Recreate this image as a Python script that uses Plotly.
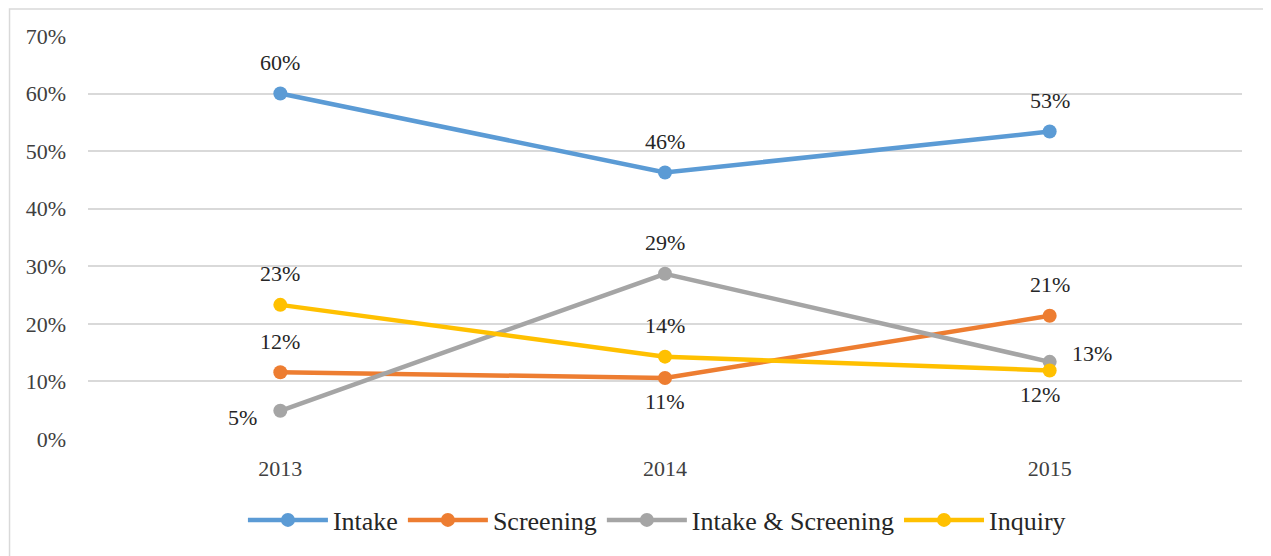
import plotly.graph_objects as go

years = ["2013", "2014", "2015"]
intake = [0.600, 0.463, 0.534]
screening = [0.116, 0.106, 0.214]
intake_screening = [0.049, 0.287, 0.134]
inquiry = [0.233, 0.143, 0.119]

series = [
    ("Intake", intake, "#5b9bd5", ["top", "top", "top"]),
    ("Screening", screening, "#ed7d31", ["top", "bottom", "top"]),
    ("Intake & Screening", intake_screening, "#a5a5a5", ["left", "top", "right"]),
    ("Inquiry", inquiry, "#ffc000", ["top", "top", "bottomleft"]),
]

# label offsets in px (xshift, yshift)
OFFSETS = {
    "top": (0, 31),
    "bottom": (0, -24),
    "left": (-38, -7),
    "right": (42, 8),
    "bottomleft": (-10, -24),
}

FONT = "Liberation Serif, Times New Roman, serif"

fig = go.Figure()
annotations = []
for name, vals, color, pos in series:
    fig.add_trace(go.Scatter(
        x=years, y=vals, name=name, mode="lines+markers",
        line=dict(color=color, width=4.5),
        marker=dict(color=color, size=14),
    ))
    # category axis: annotations are placed by category index
    for i, (v, p) in enumerate(zip(vals, pos)):
        dx, dy = OFFSETS[p]
        annotations.append(dict(
            x=i, y=v, xref="x", yref="y", text=f"{v:.0%}", showarrow=False,
            xshift=dx, yshift=dy, font=dict(family=FONT, size=22, color="#262626"),
        ))

fig.update_layout(
    width=1263, height=548,
    margin=dict(l=79.5, r=28.5, t=28, b=117),
    paper_bgcolor="white", plot_bgcolor="white",
    font=dict(family=FONT, size=22, color="#404040"),
    showlegend=True,
    legend=dict(orientation="h", x=0.493, xanchor="center", y=-0.201, yanchor="middle",
                font=dict(family=FONT, size=26, color="#262626"),
                itemwidth=80, tracegroupgap=0),
    annotations=annotations,
    shapes=[dict(type="rect", xref="paper", yref="paper",
                 x0=-0.068, x1=1.3, y0=-0.5, y1=1.067,
                 line=dict(color="#d9d9d9", width=1.5), layer="below")],
)
fig.update_xaxes(type="category", range=[-0.5, 2.5], autorange=False,
                 showgrid=False, showline=False, ticks="", automargin=False,
                 tickfont=dict(family=FONT, size=22, color="#404040"),
                 ticklabelstandoff=14)
fig.update_yaxes(range=[0, 0.7], autorange=False, dtick=0.1, tickformat=".0%",
                 automargin=False,
                 showgrid=True, gridcolor="#d9d9d9", gridwidth=1.5,
                 zeroline=False, showline=False, ticks="",
                 tickfont=dict(family=FONT, size=22, color="#404040"),
                 ticklabelstandoff=21)

fig.write_html("out.html")
